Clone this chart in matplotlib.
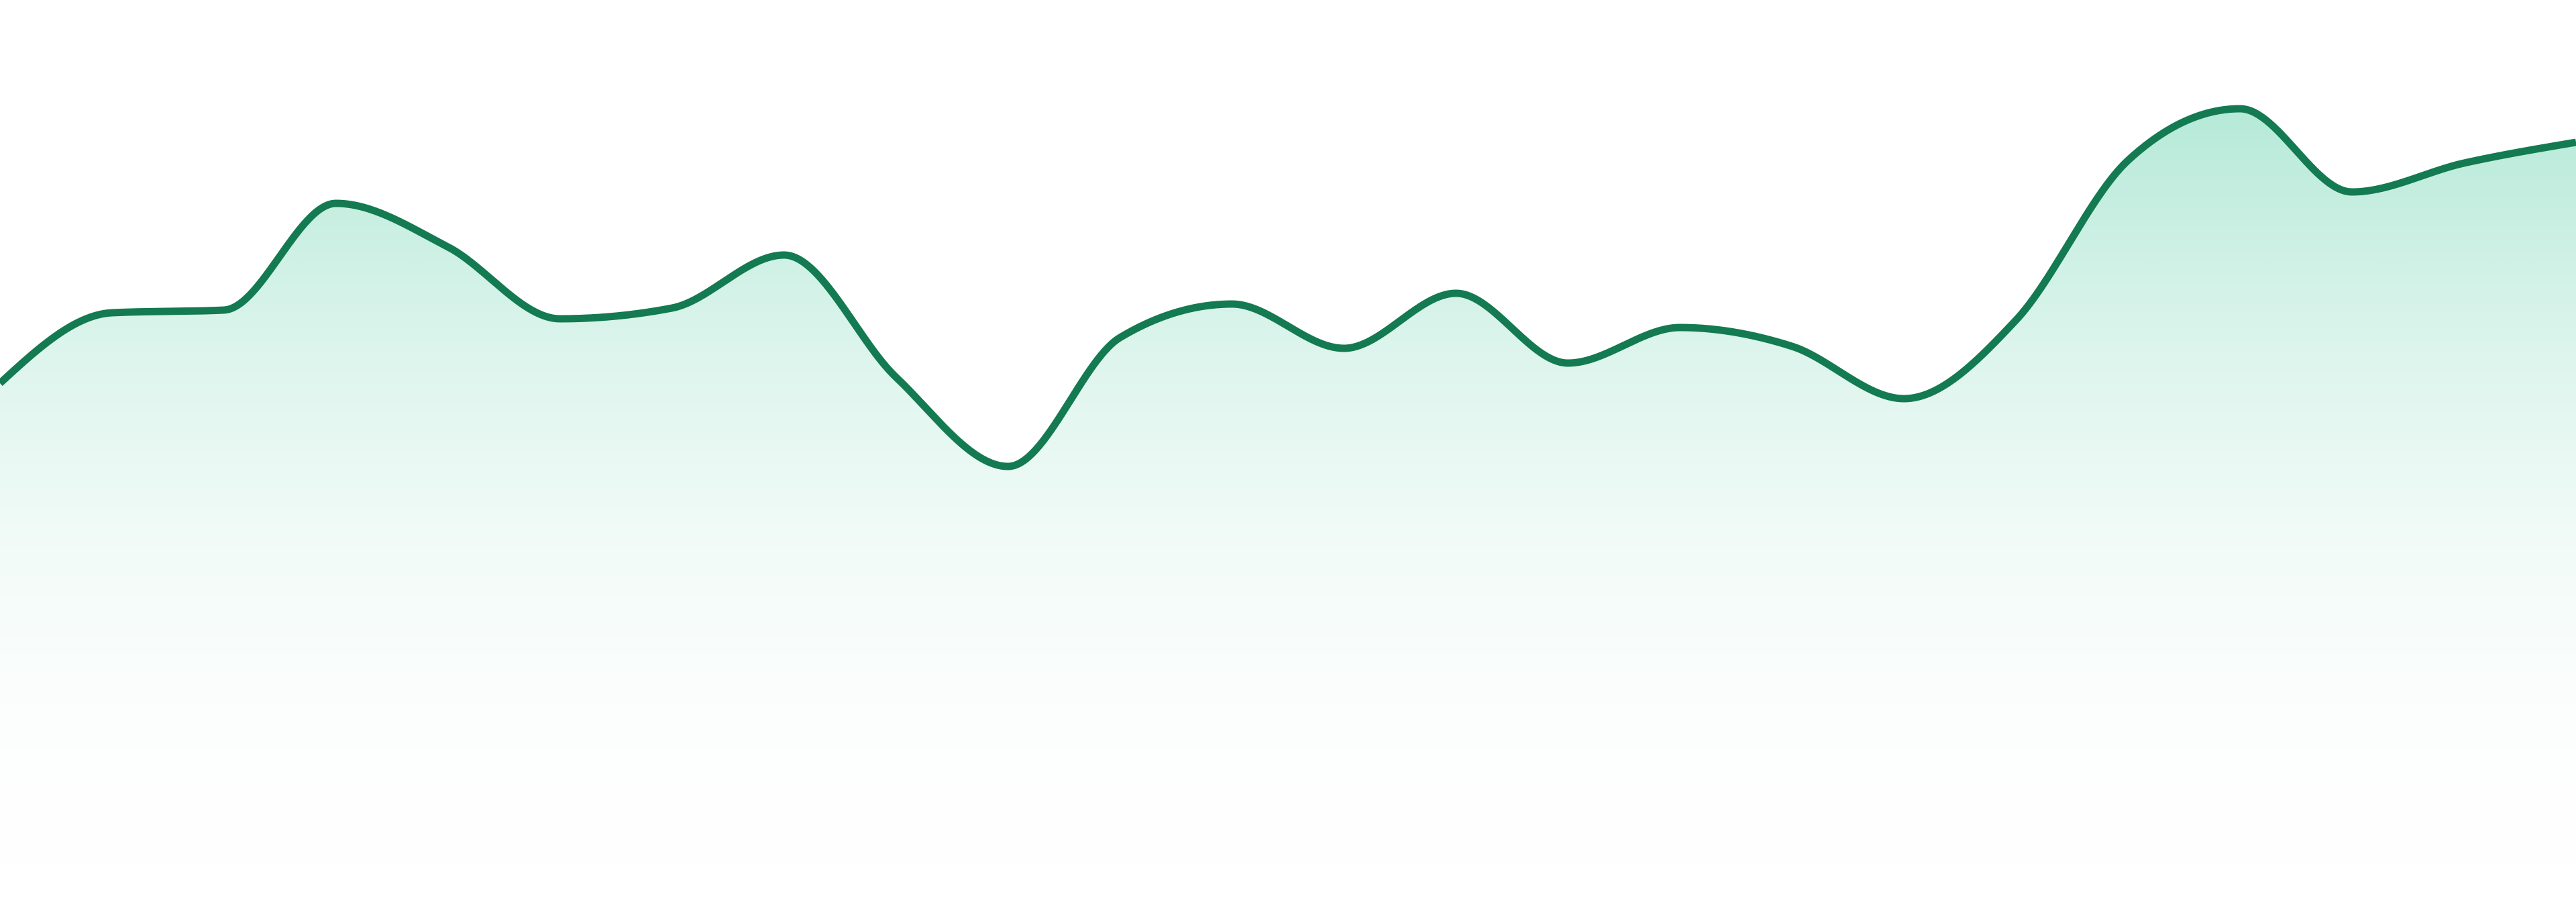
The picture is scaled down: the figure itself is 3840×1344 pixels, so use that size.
import numpy as np
import matplotlib
matplotlib.use('Agg')
import matplotlib.pyplot as plt
from matplotlib.colors import LinearSegmentedColormap

# series values (24 samples)
points = list(range(24))
values = [73.4, 83.9, 84.3, 100.2, 93.7, 83.0, 84.6, 92.5, 74.3, 61.0, 80.2, 85.2,
          78.6, 86.8, 76.4, 81.7, 78.9, 71.1, 82.8, 106.6, 114.3, 101.9, 106.2, 109.3]

LINE_COLOR = '#137a52'
FILL_COLOR = '#10b981'


def sign(v):
    return -1.0 if v < 0 else 1.0


# monotone cubic in x (like d3.curveMonotoneX)
def monotone_curve(x, y, n=60):
    x = np.asarray(x, float)
    y = np.asarray(y, float)
    h = np.diff(x)
    s = np.diff(y) / h
    t = np.zeros(len(x))
    for i in range(1, len(x) - 1):
        p = (s[i - 1] * h[i] + s[i] * h[i - 1]) / (h[i - 1] + h[i])
        t[i] = (sign(s[i - 1]) + sign(s[i])) * min(abs(s[i - 1]), abs(s[i]), 0.5 * abs(p))
    t[0] = (3 * s[0] - t[1]) / 2
    t[-1] = (3 * s[-1] - t[-2]) / 2
    xs, ys = [], []
    for i in range(len(x) - 1):
        u = np.linspace(0, 1, n, endpoint=False)
        h00 = 2 * u ** 3 - 3 * u ** 2 + 1
        h10 = u ** 3 - 2 * u ** 2 + u
        h01 = -2 * u ** 3 + 3 * u ** 2
        h11 = u ** 3 - u ** 2
        xs.append(x[i] + u * h[i])
        ys.append(h00 * y[i] + h10 * h[i] * t[i] + h01 * y[i + 1] + h11 * h[i] * t[i + 1])
    xs.append([x[-1]])
    ys.append([y[-1]])
    return np.concatenate(xs), np.concatenate(ys)


cx, cy = monotone_curve(points, values)

fig = plt.figure(figsize=(38.4, 13.44), dpi=100)
ax = fig.add_axes([0, 0, 1, 1])
ax.axis('off')

# gradient fill under the curve
poly = ax.fill_between(cx, cy, 0, facecolor='none', edgecolor='none')
top = max(values)
cmap = LinearSegmentedColormap.from_list(
    'fade', [(1, 1, 1, 0), matplotlib.colors.to_rgba(FILL_COLOR, 0.31)])
grad = np.linspace(0, 1, 512).reshape(-1, 1)
img = ax.imshow(grad, extent=(0, 23, 0, top), origin='lower', aspect='auto',
                cmap=cmap, interpolation='bilinear', zorder=1)
img.set_clip_path(poly.get_paths()[0], transform=ax.transData)

ax.plot(cx, cy, color=LINE_COLOR, lw=7.9, solid_capstyle='butt', zorder=3)

ax.set_xlim(0, 23)
ax.set_ylim(-3.9, 130.5)

fig.savefig('out.png', dpi=100, facecolor='white')
